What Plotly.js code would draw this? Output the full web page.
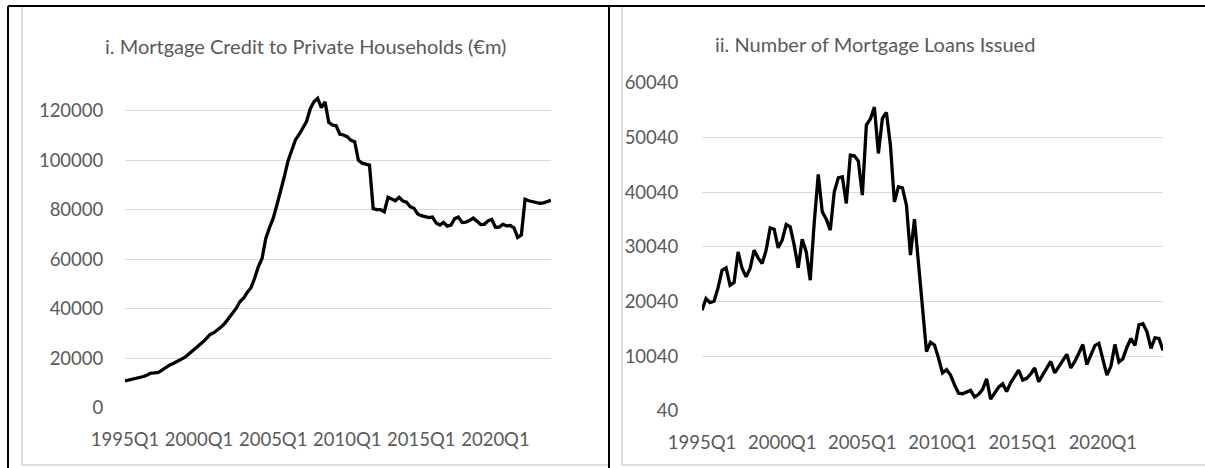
<!DOCTYPE html>
<html>
<head>
<meta charset="utf-8">
<script src="https://cdn.plot.ly/plotly-3.0.1.min.js"></script>
<style>
html,body{margin:0;padding:0;background:#fff;}
#chart{width:1205px;height:468px;}
</style>
</head>
<body>
<div id="chart"></div>
<script>
// Quarter categories 1995Q1 .. 2023Q4
const startYear = 1995;
const endYear = 2023;
const quarters = [];
for (let y = startYear; y <= endYear; y++) {
  for (let q = 1; q <= 4; q++) quarters.push(y + 'Q' + q);
}
const xTickLabels = ['1995Q1', '2000Q1', '2005Q1', '2010Q1', '2015Q1', '2020Q1'];

const titleLeft = 'i. Mortgage Credit to Private Households (€m)';
const titleRight = 'ii. Number of Mortgage Loans Issued';

// i. Mortgage credit to private households (€m)
const mortgageCredit = [
  10800, 11100, 11400, 11800, 12200, 12600, 13200, 14000, 14100, 14300,
  15200, 16300, 17200, 17900, 18700, 19300, 20200, 21400, 22600, 23700,
  25000, 26500, 28000, 29600, 30300, 31400, 32700, 34200, 36100, 38100,
  40100, 42800, 44200, 46600, 48500, 52300, 57000, 60300, 68400, 72700,
  76500, 81900, 87300, 93300, 99700, 104100, 108200, 110400, 112900, 115600,
  120700, 123600, 125000, 121200, 123600, 115300, 114200, 113900, 110500, 110200,
  109500, 108000, 107500, 100000, 98800, 98400, 98000, 80400, 80000, 80000,
  79200, 85000, 84200, 83600, 85000, 83500, 83000, 81200, 80600, 78300,
  77600, 77200, 76800, 77000, 74600, 73800, 74900, 73400, 73800, 76400,
  77000, 74800, 75000, 75600, 76600, 75400, 74000, 74100, 75500, 76100,
  72900, 73000, 74100, 73500, 73600, 72700, 68800, 69800, 84200, 83600,
  83300, 83000, 82600, 82800, 83400, 83800
];

// ii. Number of mortgage loans issued
const loansIssued = [
  18460, 20590, 19860, 20100, 22540, 25770, 26200, 23030, 23520, 29120,
  26080, 24550, 26080, 29430, 28030, 26990, 29430, 33520, 33270, 29860,
  31260, 34130, 33700, 30350, 26200, 31440, 29120, 23940, 34500, 43270,
  36440, 35100, 33090, 40100, 42660, 42850, 37970, 46810, 46690, 45710,
  39490, 52300, 53400, 55590, 47110, 53520, 54610, 48640, 38270, 41020,
  40830, 37660, 28520, 35100, 27060, 19000, 10900, 12600, 12100, 9700,
  7000, 7600, 6600, 4800, 3300, 3200, 3500, 3800, 2600, 3100,
  4000, 5900, 2200, 3400, 4400, 5000, 3600, 5200, 6300, 7500,
  5700, 6000, 6800, 7900, 5400, 6600, 7900, 9100, 7000, 8200,
  9300, 10400, 7900, 9100, 10600, 12200, 8500, 10200, 12000, 12400,
  9600, 6600, 8200, 12200, 9000, 9600, 11700, 13300, 12000, 15800,
  16000, 14500, 11500, 13400, 13300, 11100
];

const W = 1205, H = 468;
const px = v => v / W;
const py = v => 1 - v / H;

const tickFont = {family: 'Lato, "Open Sans", sans-serif', size: 18.5, color: '#595959'};
const titleFont = {family: 'Lato, "Open Sans", sans-serif', size: 20, color: '#595959'};
const gridColor = '#d9d9d9';

const xBase = {
  type: 'category',
  categoryorder: 'array',
  categoryarray: quarters,
  range: [0, quarters.length - 1],
  tickmode: 'array',
  tickvals: xTickLabels,
  ticktext: xTickLabels,
  showgrid: false,
  zeroline: false,
  showline: false,
  ticks: 'outside',
  ticklen: 15,
  tickcolor: 'rgba(0,0,0,0)',
  tickfont: tickFont,
  fixedrange: true
};

const leftTop = 407.7 - 297 * 128000 / 120000;

const layout = {
  width: W, height: H,
  margin: {l: 0, r: 0, t: 0, b: 0, pad: 0},
  paper_bgcolor: '#ffffff',
  plot_bgcolor: 'rgba(0,0,0,0)',
  showlegend: false,
  font: tickFont,
  xaxis: Object.assign({}, xBase, {domain: [px(125), px(551)], anchor: 'y'}),
  yaxis: {
    domain: [py(407.7), py(leftTop)],
    range: [0, 128000],
    tickmode: 'linear', tick0: 0, dtick: 20000,
    tickformat: 'd',
    showgrid: true, gridcolor: gridColor, gridwidth: 1,
    zeroline: false, showline: false,
    ticks: 'outside', ticklen: 17, tickcolor: 'rgba(0,0,0,0)',
    tickfont: tickFont, anchor: 'x', fixedrange: true
  },
  xaxis2: Object.assign({}, xBase, {domain: [px(702), px(1163)], anchor: 'y2'}),
  yaxis2: {
    domain: [py(411), py(82.7)],
    range: [40, 60040],
    tickmode: 'linear', tick0: 40, dtick: 10000,
    tickformat: 'd',
    showgrid: true, gridcolor: gridColor, gridwidth: 1,
    zeroline: false, showline: false,
    ticks: 'outside', ticklen: 19, tickcolor: 'rgba(0,0,0,0)',
    tickfont: tickFont, anchor: 'x2', fixedrange: true
  },
  annotations: [
    {text: titleLeft, xref: 'paper', yref: 'paper', x: px(305), y: py(46),
     xanchor: 'center', yanchor: 'middle', showarrow: false, font: titleFont},
    {text: titleRight, xref: 'paper', yref: 'paper', x: px(875), y: py(44),
     xanchor: 'center', yanchor: 'middle', showarrow: false, font: titleFont}
  ],
  shapes: [
    // outer black frame
    {type: 'line', xref: 'paper', yref: 'paper', x0: px(8), x1: 1, y0: py(6), y1: py(6), line: {color: '#000', width: 2}},
    {type: 'line', xref: 'paper', yref: 'paper', x0: px(8), x1: px(8), y0: py(6), y1: 0, line: {color: '#000', width: 2}},
    {type: 'line', xref: 'paper', yref: 'paper', x0: px(609), x1: px(609), y0: py(6), y1: 0, line: {color: '#000', width: 2}},
    // chart area borders (light grey)
    {type: 'line', xref: 'paper', yref: 'paper', x0: px(22), x1: px(22), y0: py(7), y1: py(465), line: {color: '#d0d0d0', width: 1.5}},
    {type: 'line', xref: 'paper', yref: 'paper', x0: px(22), x1: px(608), y0: py(465), y1: py(465), line: {color: '#d0d0d0', width: 1.5}},
    {type: 'line', xref: 'paper', yref: 'paper', x0: px(622), x1: px(622), y0: py(7), y1: py(465), line: {color: '#d0d0d0', width: 1.5}},
    {type: 'line', xref: 'paper', yref: 'paper', x0: px(622), x1: 1, y0: py(465), y1: py(465), line: {color: '#d0d0d0', width: 1.5}}
  ]
};

const data = [
  {x: quarters, y: mortgageCredit, type: 'scatter', mode: 'lines',
   line: {color: '#000000', width: 3.3}, xaxis: 'x', yaxis: 'y', hoverinfo: 'x+y'},
  {x: quarters, y: loansIssued, type: 'scatter', mode: 'lines',
   line: {color: '#000000', width: 3.3}, xaxis: 'x2', yaxis: 'y2', hoverinfo: 'x+y'}
];

Plotly.newPlot('chart', data, layout, {staticPlot: true, displayModeBar: false});
</script>
</body>
</html>
